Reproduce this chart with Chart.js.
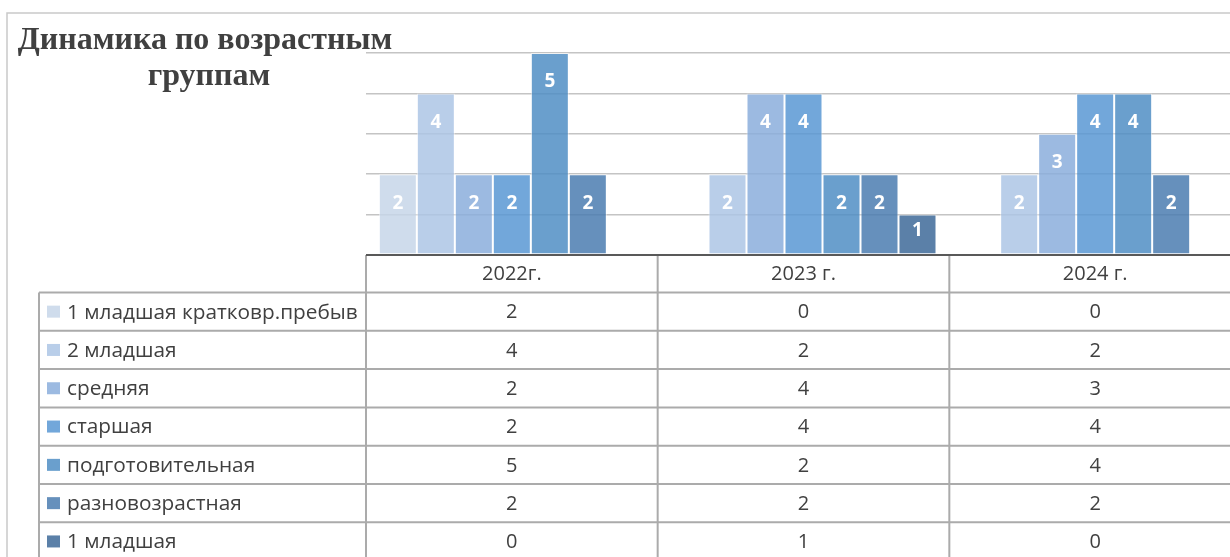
<!DOCTYPE html>
<html>
<head>
<meta charset="utf-8">
<script src="https://cdn.jsdelivr.net/npm/chart.js@4"></script>
<style>
  html, body { margin: 0; padding: 0; background: #fff; overflow: hidden; }
  #wrap { width: 1230px; height: 557px; overflow: hidden; }
</style>
</head>
<body>
<div id="wrap"><canvas id="chart" width="1245" height="557"></canvas></div>
<script>
// data
const years = ['2022г.', '2023 г.', '2024 г.'];
const groupNames = ['1 младшая кратковр.пребыв', '2 младшая', 'средняя', 'старшая', 'подготовительная', 'разновозрастная', '1 младшая'];
const shortStay = [2, 0, 0];
const junior2 = [4, 2, 2];
const middle = [2, 4, 3];
const senior = [2, 4, 4];
const preparatory = [5, 2, 4];
const mixedAge = [2, 2, 2];
const junior1 = [0, 1, 0];
const yTicks = [0, 1, 2, 3, 4, 5];
const titleLines = ['Динамика по возрастным', 'группам'];

const seriesValues = [shortStay, junior2, middle, senior, preparatory, mixedAge, junior1];

// colours (semi transparent like the original, grid shows through)
const barColors = [
  'rgba(199,214,233,0.85)',
  'rgba(173,197,229,0.85)',
  'rgba(139,174,220,0.85)',
  'rgba(89,152,212,0.85)',
  'rgba(80,142,196,0.85)',
  'rgba(75,124,176,0.85)',
  'rgba(62,106,153,0.85)'
];
const swatchColors = ['#CFDCEC', '#B9CEE9', '#9CBAE1', '#72A7DA', '#6A9FCD', '#6690BC', '#5B80A8'];

const textColor = '#404040';
const tableLine = '#ABABAB';
const headerH = 37.5;
const rowH = 38.3;
const legendLeft = 39;

// white bold labels near the top of each bar
const barLabels = {
  id: 'barLabels',
  afterDatasetsDraw(chart) {
    const ctx = chart.ctx;
    const base = chart.scales.y.getPixelForValue(0);
    ctx.save();
    ctx.font = 'bold 19px "Open Sans"';
    ctx.fillStyle = '#fff';
    ctx.textAlign = 'center';
    ctx.textBaseline = 'middle';
    chart.data.datasets.forEach((ds, i) => {
      chart.getDatasetMeta(i).data.forEach((bar, j) => {
        const v = ds.data[j];
        if (!v) return;
        const y = Math.min(bar.y + 29, base - 24);
        ctx.fillText(String(v), bar.x, y);
      });
    });
    ctx.restore();
  }
};

// title, outer frame and the data table under the axis
const extras = {
  id: 'extras',
  afterDraw(chart) {
    const ctx = chart.ctx;
    const area = chart.chartArea;
    const xs = chart.scales.x;
    const n = years.length;
    const catW = (area.right - area.left) / n;
    const top = area.bottom;
    const dataTop = top + headerH;
    const bottom = dataTop + rowH * groupNames.length;

    ctx.save();
    // frame
    ctx.strokeStyle = '#C9C9C9';
    ctx.lineWidth = 1.5;
    ctx.beginPath();
    ctx.moveTo(7, 557);
    ctx.lineTo(7, 13);
    ctx.lineTo(1245, 13);
    ctx.stroke();

    // title
    ctx.fillStyle = textColor;
    ctx.font = 'bold 32px "Liberation Serif"';
    ctx.textAlign = 'center';
    ctx.textBaseline = 'alphabetic';
    ctx.fillText(titleLines[0], 205, 48.5);
    ctx.fillText(titleLines[1], 209, 85);

    // table grid
    ctx.strokeStyle = tableLine;
    ctx.lineWidth = 2;
    ctx.beginPath();
    for (let k = 0; k <= groupNames.length; k++) {
      const y = dataTop + k * rowH;
      ctx.moveTo(legendLeft, y);
      ctx.lineTo(area.right, y);
    }
    ctx.moveTo(legendLeft, dataTop);
    ctx.lineTo(legendLeft, bottom);
    for (let i = 0; i <= n; i++) {
      const x = area.left + i * catW;
      ctx.moveTo(x, top);
      ctx.lineTo(x, bottom);
    }
    ctx.stroke();

    // axis line
    ctx.strokeStyle = '#595959';
    ctx.lineWidth = 2;
    ctx.beginPath();
    ctx.moveTo(area.left, top);
    ctx.lineTo(area.right, top);
    ctx.stroke();

    // header and values
    ctx.fillStyle = textColor;
    ctx.font = '20px "Open Sans"';
    ctx.textAlign = 'center';
    ctx.textBaseline = 'middle';
    years.forEach((yr, i) => {
      const cx = xs.getPixelForValue(i);
      ctx.fillText(yr, cx, top + headerH / 2 + 1);
      seriesValues.forEach((vals, k) => {
        ctx.fillText(String(vals[i]), cx, dataTop + k * rowH + rowH / 2 + 1);
      });
    });

    // legend keys
    ctx.textAlign = 'left';
    ctx.font = '20.8px "Open Sans"';
    groupNames.forEach((name, k) => {
      const cy = dataTop + k * rowH + rowH / 2;
      ctx.fillStyle = swatchColors[k];
      ctx.fillRect(47, cy - 6, 13, 12);
      ctx.fillStyle = textColor;
      ctx.fillText(name, 67, cy + 1);
    });
    ctx.restore();
  }
};

function build() {
  new Chart(document.getElementById('chart'), {
    type: 'bar',
    data: {
      labels: years,
      datasets: groupNames.map((name, i) => ({
        label: name,
        data: seriesValues[i],
        backgroundColor: barColors[i],
        borderColor: 'rgba(255,255,255,0.55)',
        borderWidth: 1,
        borderSkipped: false,
        categoryPercentage: 0.912,
        barPercentage: 1.0
      }))
    },
    options: {
      responsive: false,
      devicePixelRatio: 1,
      animation: false,
      layout: { padding: { left: 366, top: 53, right: 4, bottom: 302 } },
      plugins: { legend: { display: false }, title: { display: false }, tooltip: { enabled: false } },
      scales: {
        x: {
          display: false
        },
        y: {
          min: yTicks[0],
          max: yTicks[yTicks.length - 1],
          afterBuildTicks(axis) { axis.ticks = yTicks.map(v => ({ value: v })); },
          grid: { color: '#C4C4C4', lineWidth: 1.5, drawTicks: false },
          border: { display: false },
          ticks: { display: false }
        }
      }
    },
    plugins: [barLabels, extras]
  });
}

Promise.all([
  document.fonts.load('20px "Open Sans"'),
  document.fonts.load('bold 18px "Open Sans"'),
  document.fonts.load('bold 31px "Liberation Serif"')
]).then(build, build);
</script>
</body>
</html>
